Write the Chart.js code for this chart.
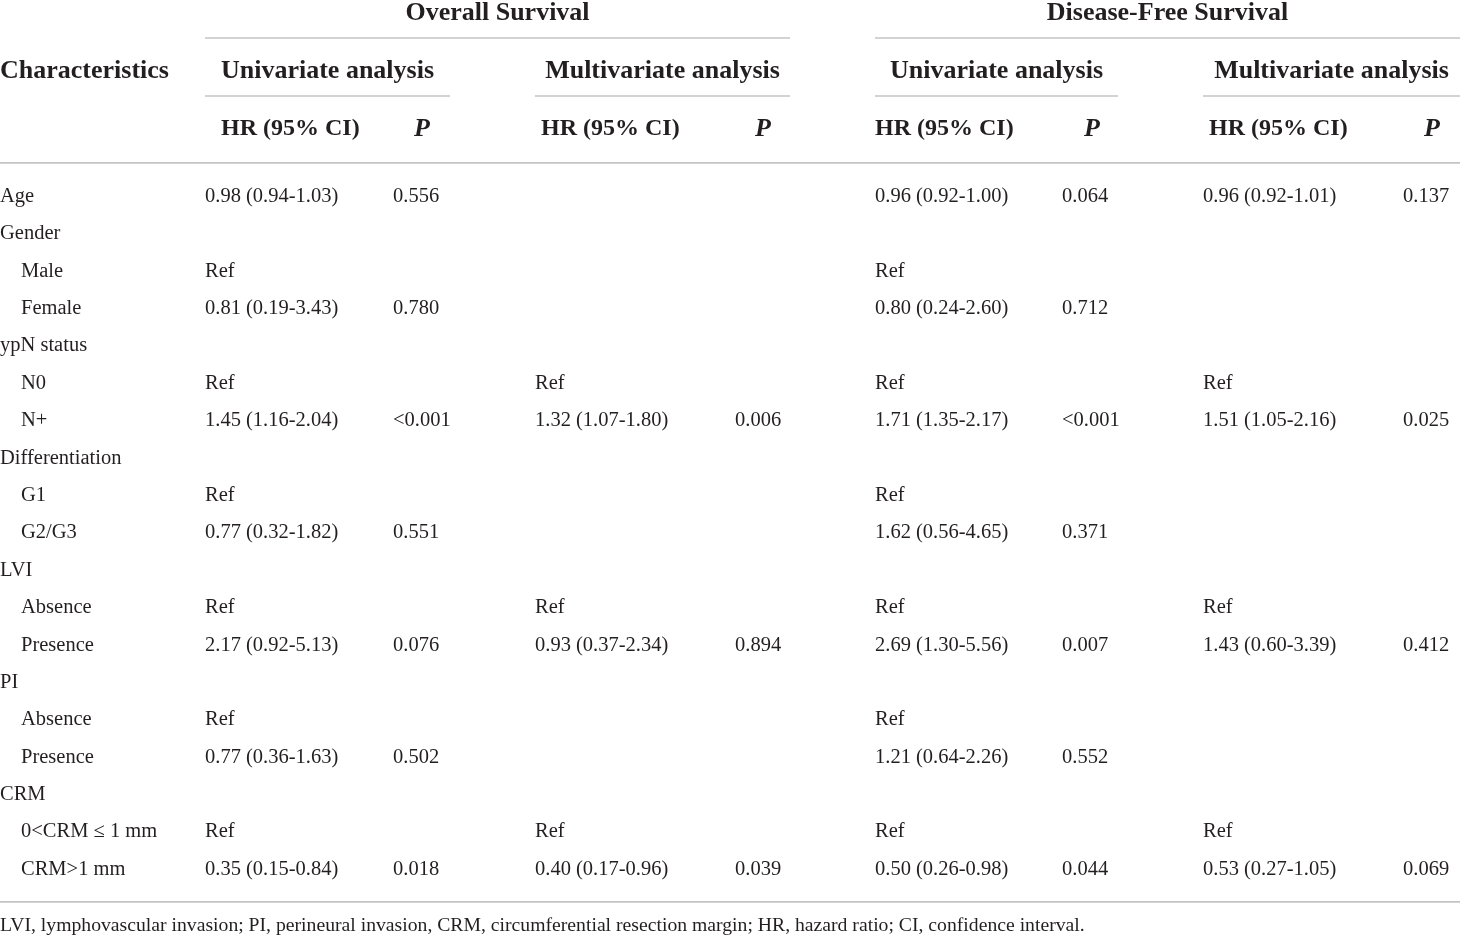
<!DOCTYPE html>
<html>
<head>
<meta charset="utf-8">
<script src="https://cdn.jsdelivr.net/npm/chart.js@4.4.1/dist/chart.umd.min.js"></script>
<style>
    html, body { margin: 0; padding: 0; background: #fff; }
    #wrap { width: 1460px; height: 936px; }
</style>
</head>
<body>
<div id="wrap"><canvas id="tabla" width="1460" height="936"></canvas></div>
<script>
// Filas de la tabla (nivel 1 = subcategoría con sangría)
const caracteristicas = ["Age", "Gender", "Male", "Female", "ypN status", "N0", "N+",
    "Differentiation", "G1", "G2/G3", "LVI", "Absence", "Presence", "PI", "Absence",
    "Presence", "CRM", "0<CRM \u2264 1 mm", "CRM>1 mm"];
const nivelFila = [0, 0, 1, 1, 0, 1, 1, 0, 1, 1, 0, 1, 1, 0, 1, 1, 0, 1, 1];

// Overall Survival
const osUniHR = ["0.98 (0.94-1.03)", "", "Ref", "0.81 (0.19-3.43)", "", "Ref", "1.45 (1.16-2.04)",
    "", "Ref", "0.77 (0.32-1.82)", "", "Ref", "2.17 (0.92-5.13)", "", "Ref", "0.77 (0.36-1.63)",
    "", "Ref", "0.35 (0.15-0.84)"];
const osUniP = ["0.556", "", "", "0.780", "", "", "<0.001", "", "", "0.551", "", "", "0.076",
    "", "", "0.502", "", "", "0.018"];
const osMultiHR = ["", "", "", "", "", "Ref", "1.32 (1.07-1.80)", "", "", "", "", "Ref",
    "0.93 (0.37-2.34)", "", "", "", "", "Ref", "0.40 (0.17-0.96)"];
const osMultiP = ["", "", "", "", "", "", "0.006", "", "", "", "", "", "0.894", "", "", "",
    "", "", "0.039"];

// Disease-Free Survival
const dfsUniHR = ["0.96 (0.92-1.00)", "", "Ref", "0.80 (0.24-2.60)", "", "Ref", "1.71 (1.35-2.17)",
    "", "Ref", "1.62 (0.56-4.65)", "", "Ref", "2.69 (1.30-5.56)", "", "Ref", "1.21 (0.64-2.26)",
    "", "Ref", "0.50 (0.26-0.98)"];
const dfsUniP = ["0.064", "", "", "0.712", "", "", "<0.001", "", "", "0.371", "", "", "0.007",
    "", "", "0.552", "", "", "0.044"];
const dfsMultiHR = ["0.96 (0.92-1.01)", "", "", "", "", "Ref", "1.51 (1.05-2.16)", "", "", "",
    "", "Ref", "1.43 (0.60-3.39)", "", "", "", "", "Ref", "0.53 (0.27-1.05)"];
const dfsMultiP = ["0.137", "", "", "", "", "", "0.025", "", "", "", "", "", "0.412", "", "",
    "", "", "", "0.069"];

// Encabezados
const grupos = ["Overall Survival", "Disease-Free Survival"];
const analisis = ["Univariate analysis", "Multivariate analysis", "Univariate analysis", "Multivariate analysis"];
const tituloFilas = "Characteristics";
const tituloHR = "HR (95% CI)";
const tituloP = "P";
const nota = "LVI, lymphovascular invasion; PI, perineural invasion, CRM, circumferential resection margin; HR, hazard ratio; CI, confidence interval.";

// ---- Maquetación (posiciones en unidades de escala) ----
const FUENTE = "'Liberation Serif', 'DejaVu Serif', serif";
const TEXTO = "#231f20";
const LINEA = "#c4c4c4";
const yGrupo = -4.87, yLineaGrupo = -4.199, yAnalisis = -3.32, yLineaAnalisis = -2.648;
const yCabecera = -1.77, yLineaTop = -0.856, yLineaBottom = 18.909, yNota = 19.55;
const xEtiqueta = [0, 21];
const columnas = [
    { datos: osUniHR, x: 205, hx: 221, tipo: "hr" },
    { datos: osUniP, x: 393, hx: 422, tipo: "p" },
    { datos: osMultiHR, x: 535, hx: 541, tipo: "hr" },
    { datos: osMultiP, x: 735, hx: 763, tipo: "p" },
    { datos: dfsUniHR, x: 875, hx: 875, tipo: "hr" },
    { datos: dfsUniP, x: 1062, hx: 1092, tipo: "p" },
    { datos: dfsMultiHR, x: 1203, hx: 1209, tipo: "hr" },
    { datos: dfsMultiP, x: 1403, hx: 1432, tipo: "p" }
];
const tramosGrupo = [[205, 790], [875, 1460]];
const tramosAnalisis = [[205, 450], [535, 790], [875, 1118], [1203, 1460]];

const datasets = [];

function textoDataset(puntos, etiquetas, font, align) {
    return {
        type: "scatter",
        data: puntos,
        etiquetas: etiquetas,
        fuente: font,
        alinear: align || "left",
        pointRadius: 0,
        pointHoverRadius: 0,
        showLine: false
    };
}

function lineaDataset(x0, x1, y, ancho) {
    return {
        type: "scatter",
        data: [{ x: x0, y: y }, { x: x1, y: y }],
        showLine: true,
        borderColor: LINEA,
        borderWidth: ancho || 1.5,
        pointRadius: 0,
        pointHoverRadius: 0,
        fill: false
    };
}

// Columna de características
datasets.push(textoDataset(
    caracteristicas.map((c, i) => ({ x: xEtiqueta[nivelFila[i]], y: i + 0.04 })),
    caracteristicas, "20.5px " + FUENTE));

// Columnas de valores
columnas.forEach(col => {
    datasets.push(textoDataset(col.datos.map((v, i) => ({ x: col.x, y: i + 0.04 })), col.datos, "20.5px " + FUENTE));
});

// Encabezados
datasets.push(textoDataset([{ x: 0, y: yAnalisis }], [tituloFilas], "bold 26px " + FUENTE));
grupos.forEach((g, i) => {
    const t = tramosGrupo[i];
    datasets.push(textoDataset([{ x: (t[0] + t[1]) / 2, y: yGrupo }], [g], "bold 26px " + FUENTE, "center"));
    datasets.push(lineaDataset(t[0], t[1], yLineaGrupo));
});
analisis.forEach((a, i) => {
    const t = tramosAnalisis[i];
    datasets.push(textoDataset([{ x: (t[0] + t[1]) / 2, y: yAnalisis }], [a], "bold 26px " + FUENTE, "center"));
    datasets.push(lineaDataset(t[0], t[1], yLineaAnalisis));
});
columnas.forEach(col => {
    if (col.tipo === "hr") {
        datasets.push(textoDataset([{ x: col.hx, y: yCabecera }], [tituloHR], "bold 24px " + FUENTE));
    } else {
        datasets.push(textoDataset([{ x: col.hx, y: yCabecera }], [tituloP], "italic bold 26px " + FUENTE, "center"));
    }
});

// Reglas y nota al pie
datasets.push(lineaDataset(0, 1460, yLineaTop, 1.8));
datasets.push(lineaDataset(0, 1460, yLineaBottom, 1.8));
datasets.push(textoDataset([{ x: 0, y: yNota }], [nota], "19.7px " + FUENTE));

// Plugin para dibujar los textos en la posición de cada punto
const textoCeldas = {
    id: "textoCeldas",
    afterDatasetsDraw(chart) {
        const ctx = chart.ctx;
        ctx.save();
        ctx.fillStyle = TEXTO;
        ctx.textBaseline = "middle";
        chart.data.datasets.forEach((ds, i) => {
            if (!ds.etiquetas) return;
            const meta = chart.getDatasetMeta(i);
            ctx.font = ds.fuente;
            ctx.textAlign = ds.alinear;
            meta.data.forEach((pt, j) => {
                const txt = ds.etiquetas[j];
                if (txt) ctx.fillText(txt, pt.x, pt.y);
            });
        });
        ctx.restore();
    }
};

new Chart(document.getElementById("tabla").getContext("2d"), {
    type: "scatter",
    data: { datasets: datasets },
    options: {
        responsive: false,
        animation: false,
        devicePixelRatio: 1,
        layout: { padding: 0 },
        events: [],
        clip: false,
        scales: {
            x: { type: "linear", min: 0, max: 1460, display: false },
            y: { type: "linear", min: -5.215, max: 19.82, reverse: true, display: false }
        },
        plugins: {
            legend: { display: false },
            tooltip: { enabled: false },
            title: { display: false }
        }
    },
    plugins: [textoCeldas]
});
</script>
</body>
</html>
